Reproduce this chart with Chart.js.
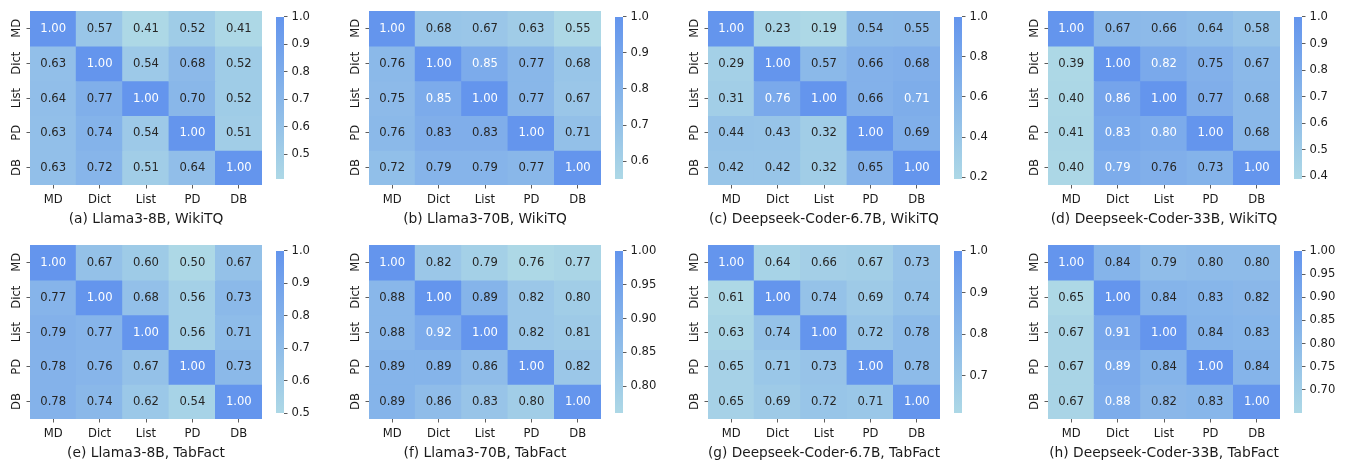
<!DOCTYPE html>
<html>
<head>
<meta charset="utf-8">
<script src="https://cdn.jsdelivr.net/npm/chart.js@4.4.1/dist/chart.umd.min.js"></script>
<style>
  html, body { margin: 0; padding: 0; background: #fff; }
  #wrap { position: relative; width: 1348px; height: 464px; overflow: hidden; }
  canvas { position: absolute; }
</style>
</head>
<body>
<div id="wrap"></div>
<script>
// table formats, used for both axes
var formats = ['MD', 'Dict', 'List', 'PD', 'DB'];

// rows = y label, columns = x label
var llama8bWikiTQ = [
  [1.00, 0.57, 0.41, 0.52, 0.41],
  [0.63, 1.00, 0.54, 0.68, 0.52],
  [0.64, 0.77, 1.00, 0.70, 0.52],
  [0.63, 0.74, 0.54, 1.00, 0.51],
  [0.63, 0.72, 0.51, 0.64, 1.00]
];
var llama70bWikiTQ = [
  [1.00, 0.68, 0.67, 0.63, 0.55],
  [0.76, 1.00, 0.85, 0.77, 0.68],
  [0.75, 0.85, 1.00, 0.77, 0.67],
  [0.76, 0.83, 0.83, 1.00, 0.71],
  [0.72, 0.79, 0.79, 0.77, 1.00]
];
var coder7bWikiTQ = [
  [1.00, 0.23, 0.19, 0.54, 0.55],
  [0.29, 1.00, 0.57, 0.66, 0.68],
  [0.31, 0.76, 1.00, 0.66, 0.71],
  [0.44, 0.43, 0.32, 1.00, 0.69],
  [0.42, 0.42, 0.32, 0.65, 1.00]
];
var coder33bWikiTQ = [
  [1.00, 0.67, 0.66, 0.64, 0.58],
  [0.39, 1.00, 0.82, 0.75, 0.67],
  [0.40, 0.86, 1.00, 0.77, 0.68],
  [0.41, 0.83, 0.80, 1.00, 0.68],
  [0.40, 0.79, 0.76, 0.73, 1.00]
];
var llama8bTabFact = [
  [1.00, 0.67, 0.60, 0.50, 0.67],
  [0.77, 1.00, 0.68, 0.56, 0.73],
  [0.79, 0.77, 1.00, 0.56, 0.71],
  [0.78, 0.76, 0.67, 1.00, 0.73],
  [0.78, 0.74, 0.62, 0.54, 1.00]
];
var llama70bTabFact = [
  [1.00, 0.82, 0.79, 0.76, 0.77],
  [0.88, 1.00, 0.89, 0.82, 0.80],
  [0.88, 0.92, 1.00, 0.82, 0.81],
  [0.89, 0.89, 0.86, 1.00, 0.82],
  [0.89, 0.86, 0.83, 0.80, 1.00]
];
var coder7bTabFact = [
  [1.00, 0.64, 0.66, 0.67, 0.73],
  [0.61, 1.00, 0.74, 0.69, 0.74],
  [0.63, 0.74, 1.00, 0.72, 0.78],
  [0.65, 0.71, 0.73, 1.00, 0.78],
  [0.65, 0.69, 0.72, 0.71, 1.00]
];
var coder33bTabFact = [
  [1.00, 0.84, 0.79, 0.80, 0.80],
  [0.65, 1.00, 0.84, 0.83, 0.82],
  [0.67, 0.91, 1.00, 0.84, 0.83],
  [0.67, 0.89, 0.84, 1.00, 0.84],
  [0.67, 0.88, 0.82, 0.83, 1.00]
];

var captions = [
  '(a) Llama3-8B, WikiTQ', '(b) Llama3-70B, WikiTQ',
  '(c) Deepseek-Coder-6.7B, WikiTQ', '(d) Deepseek-Coder-33B, WikiTQ',
  '(e) Llama3-8B, TabFact', '(f) Llama3-70B, TabFact',
  '(g) Deepseek-Coder-6.7B, TabFact', '(h) Deepseek-Coder-33B, TabFact'
];

// colorbar tick labels per panel
var cbTicksA = ['0.5', '0.6', '0.7', '0.8', '0.9', '1.0'];
var cbTicksB = ['0.6', '0.7', '0.8', '0.9', '1.0'];
var cbTicksC = ['0.2', '0.4', '0.6', '0.8', '1.0'];
var cbTicksD = ['0.4', '0.5', '0.6', '0.7', '0.8', '0.9', '1.0'];
var cbTicksE = ['0.5', '0.6', '0.7', '0.8', '0.9', '1.0'];
var cbTicksF = ['0.80', '0.85', '0.90', '0.95', '1.00'];
var cbTicksG = ['0.7', '0.8', '0.9', '1.0'];
var cbTicksH = ['0.70', '0.75', '0.80', '0.85', '0.90', '0.95', '1.00'];

var matrices = [llama8bWikiTQ, llama70bWikiTQ, coder7bWikiTQ, coder33bWikiTQ,
                llama8bTabFact, llama70bTabFact, coder7bTabFact, coder33bTabFact];
var cbTicks = [cbTicksA, cbTicksB, cbTicksC, cbTicksD, cbTicksE, cbTicksF, cbTicksG, cbTicksH];

Chart.defaults.font.family = '"DejaVu Sans", sans-serif';
Chart.defaults.animation = false;
Chart.defaults.events = [];

var LOW = [173, 216, 230];   // lightblue
var HIGH = [100, 149, 237];  // cornflowerblue
function mix(t) {
  return LOW.map(function (c, i) { return Math.round(c + (HIGH[i] - c) * t); });
}
function rgb(c) { return 'rgb(' + c.join(',') + ')'; }
function lum(c) {
  var l = c.map(function (v) {
    v = v / 255;
    return v <= 0.03928 ? v / 12.92 : Math.pow((v + 0.055) / 1.055, 2.4);
  });
  return 0.2126 * l[0] + 0.7152 * l[1] + 0.0722 * l[2];
}

var TICK_FONT = { size: 11.6 };
var INK = '#1a1a1a';

function cellText(matrix, vmin, vmax) {
  return {
    id: 'cellText',
    afterDatasetsDraw: function (chart) {
      var ctx = chart.ctx;
      ctx.save();
      ctx.font = '11.6px "DejaVu Sans"';
      ctx.textAlign = 'center';
      ctx.textBaseline = 'middle';
      matrix.forEach(function (row, r) {
        chart.getDatasetMeta(r).data.forEach(function (bar, c) {
          var v = row[c];
          var col = mix((v - vmin) / (vmax - vmin));
          ctx.fillStyle = lum(col) < 0.408 ? '#ffffff' : '#262626';
          ctx.fillText(v.toFixed(2), bar.x, (bar.y + bar.base) / 2 + 0.5);
        });
      });
      ctx.restore();
    }
  };
}

function addCanvas(left, top, w, h) {
  var c = document.createElement('canvas');
  c.width = w; c.height = h;
  c.style.left = left + 'px';
  c.style.top = top + 'px';
  document.getElementById('wrap').appendChild(c);
  return c;
}

var heatLefts = [30, 369, 708, 1048];
var heatTops = [11, 245];
var heatW = 232, heatH = 174;

var tickGrid = { drawOnChartArea: false, offset: false, tickLength: 3.5, tickColor: '#333', tickWidth: 0.8 };

matrices.forEach(function (matrix, p) {
  var left = heatLefts[p % 4], top = heatTops[Math.floor(p / 4)];
  var all = [].concat.apply([], matrix);
  var vmin = Math.min.apply(null, all), vmax = Math.max.apply(null, all);
  var ticks = cbTicks[p];

  // heatmap
  new Chart(addCanvas(left - 40, top - 5, heatW + 80, heatH + 48), {
    type: 'bar',
    data: {
      labels: formats,
      datasets: matrix.map(function (row, r) {
        return {
          data: row.map(function () { return [r, r + 1]; }),
          backgroundColor: row.map(function (v) { return rgb(mix((v - vmin) / (vmax - vmin))); }),
          borderWidth: 0,
          inflateAmount: 0.6,
          grouped: false,
          barPercentage: 1,
          categoryPercentage: 1
        };
      })
    },
    options: {
      responsive: false,
      layout: { padding: { left: 0, right: 40, top: 5, bottom: 0 } },
      plugins: { legend: { display: false }, tooltip: { enabled: false } },
      scales: {
        x: {
          afterFit: function (s) { s.height = 43; },
          ticks: { font: TICK_FONT, color: INK, padding: 5, maxRotation: 0 },
          grid: tickGrid,
          border: { display: false },
          title: { display: true, text: captions[p], font: { size: 13.8 }, color: INK, padding: 0 }
        },
        y: {
          min: 0, max: 5, reverse: true,
          afterFit: function (s) { s.width = 40; },
          afterBuildTicks: function (s) {
            s.ticks = formats.map(function (f, i) { return { value: i + 0.5 }; });
          },
          ticks: {
            font: TICK_FONT, color: INK, padding: -2,
            minRotation: 90, maxRotation: 90, crossAlign: 'center',
            callback: function (v, i) { return formats[i]; }
          },
          grid: tickGrid,
          border: { display: false }
        }
      }
    },
    plugins: [cellText(matrix, vmin, vmax)]
  });

  // colorbar
  new Chart(addCanvas(left + heatW + 14, top - 5, 8 + 40, heatH + 10), {
    type: 'bar',
    data: {
      labels: [''],
      datasets: [{
        data: [[vmin, vmax]],
        backgroundColor: function (ctx) {
          var a = ctx.chart.chartArea;
          if (!a) return rgb(HIGH);
          var g = ctx.chart.ctx.createLinearGradient(0, a.bottom, 0, a.top);
          g.addColorStop(0, rgb(LOW));
          g.addColorStop(1, rgb(HIGH));
          return g;
        },
        borderWidth: 0,
        barPercentage: 1,
        categoryPercentage: 1
      }]
    },
    options: {
      responsive: false,
      layout: { padding: { left: 0, right: 0, top: 5, bottom: 5 } },
      plugins: { legend: { display: false }, tooltip: { enabled: false } },
      scales: {
        x: { display: false },
        y: {
          position: 'right', min: vmin, max: vmax,
          afterFit: function (s) { s.width = 40; },
          afterBuildTicks: function (s) {
            s.ticks = ticks.map(function (t) { return { value: parseFloat(t) }; });
          },
          ticks: {
            font: TICK_FONT, color: INK, padding: 4,
            callback: function (v, i) { return ticks[i]; }
          },
          grid: tickGrid,
          border: { display: false }
        }
      }
    }
  });
});
</script>
</body>
</html>
